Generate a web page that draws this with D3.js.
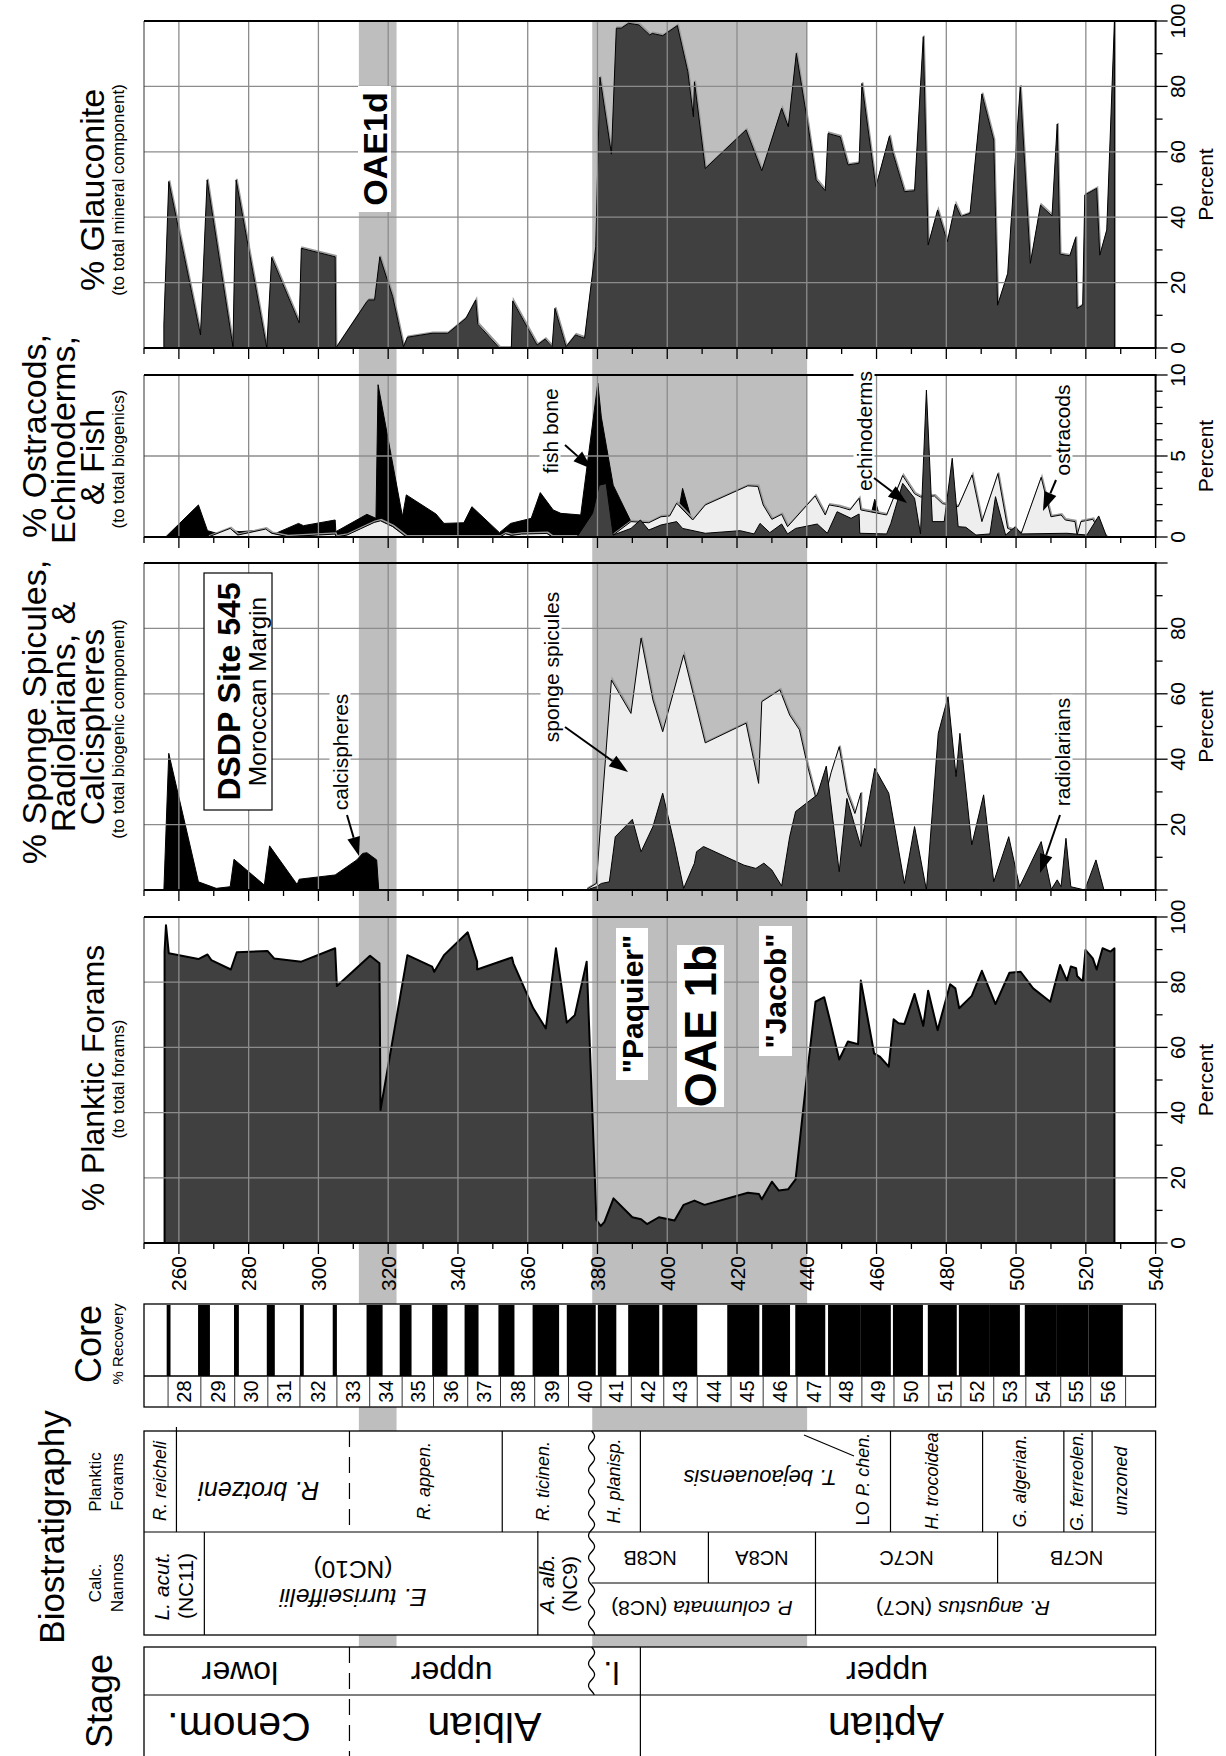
<!DOCTYPE html>
<html>
<head>
<meta charset="utf-8">
<script src="https://cdn.jsdelivr.net/npm/d3@7"></script>
<style>
body { margin: 0; background: #fff; }
svg { display: block; font-family: "Liberation Sans", Arial, Helvetica, sans-serif; }
</style>
</head>
<body>
<svg id="chart"></svg>
<script>
// Full size of the svg element.
const WIDTH = 1226
const HEIGHT = 1756

// ---------------- data (depth in mbsf, value in percent) ----------------

// Grey shaded events: OAE1d and OAE1b.
const bandTop = [311.6, 378.5]
const bandBase = [322.4, 440.1]

const glauconite = [
  [255.7, 0], [255.7, 7.3], [257.1, 50.9], [266.2, 4.0], [268.1, 51.4], [275.5, 0.4], [276.4, 51.4],
  [285.2, 0], [286.6, 27.7], [294.5, 7.7], [295.1, 30.5], [304.8, 27.9], [305.0, 0], [313.9, 14.2],
  [314.4, 14.7], [316.1, 14.7], [317.6, 27.9], [321.3, 15.7], [324.4, 0.4], [325.5, 3.3], [332.6, 4.5],
  [337.1, 4.5], [342.3, 9.1], [345.1, 14.7], [345.7, 7.3], [351.9, 0], [355.3, 0], [355.7, 14.4],
  [362.7, 0.9], [365.0, 2.7], [367.0, 0.4], [367.8, 12.1], [371.0, 0.4], [373.7, 4.0], [376.3, 3.0],
  [379.5, 31], [380.7, 82.8], [384.0, 59.3], [385.4, 97.8], [386.8, 97.8], [388.9, 99.3], [391.9, 98.8],
  [395.0, 95.7], [395.7, 96.2], [398.7, 95.5], [402.9, 98.6], [405.9, 84.5], [407.5, 70.7], [407.8, 81.4],
  [410.9, 54.9], [422.6, 66.7], [427.1, 54.2], [432.8, 73.3], [434.7, 67.7], [437.0, 90.1], [440.2, 69.2],
  [442.7, 51.4], [445.3, 48.1], [446.1, 65.6], [449.6, 64.6], [451.8, 56.0], [455.0, 56.5], [455.8, 80.9],
  [459.8, 49.3], [463.7, 64.8], [464.6, 60.0], [468.0, 47.8], [470.9, 48.1], [473.4, 95.2], [474.8, 31.5],
  [477.5, 42.2], [480.3, 32.5], [482.6, 44.0], [484.2, 40.2], [486.8, 41.2], [490.2, 77.7], [493.6, 63.6],
  [494.7, 13.1], [497.6, 22.8], [501.2, 80.1], [504.1, 25.9], [507.0, 43.7], [510.3, 40.4], [511.8, 68.5],
  [512.6, 28.7], [515.4, 28.2], [517.1, 33.8], [517.5, 12.1], [519.1, 13.1], [519.7, 46.8], [523.1, 48.8],
  [524.0, 28.4], [526.0, 36.1], [528.2, 99.8], [528.2, 0]
]

const fishBone = [
  [256.2, 0], [265.6, 1.98], [268.2, 0.39], [271.3, 0.2], [275.6, 0.37], [277.5, 0.33], [284.3, 0.43],
  [287.7, 0.22], [294.3, 0.84], [295.7, 0.7], [304.8, 1.05], [305.0, 0.33], [313.9, 1.4], [316.5, 1.15],
  [317.1, 9.4], [324.1, 1.26], [325.2, 2.6], [333.7, 1.42], [336.0, 0.84], [341.7, 0.88], [344.0, 1.87],
  [351.9, 0.27], [355.1, 0.84], [361.0, 1.15], [363.6, 2.74], [367.3, 1.67], [369.5, 1.46], [375.2, 1.36],
  [380.1, 9.49], [381.1, 7.4], [384.5, 3.2], [389.6, 0.95], [395.0, 0.4], [402.7, 0.9], [404.4, 3.0],
  [407.0, 1.05], [410.0, 0.3], [455.0, 0.3], [458.0, 1.0], [459.5, 2.33], [461.0, 1.2], [465.0, 0.3],
  [510.0, 0.3], [512.5, 1.3], [514.0, 0.6], [520.0, 0.2], [524.0, 0.2], [526.0, 0]
]

const ostracods = [
  [268.4, 0], [274.7, 0.53], [276.9, 0.12], [284.9, 0.49], [286.6, 0.23], [291.1, 0.02], [304.8, 0.18],
  [305.1, 0], [308.2, 0.12], [312.0, 0.5], [316.0, 0.9], [317.8, 1.0], [321.3, 0.64], [325.2, 0],
  [352.0, 0], [353.6, 0.2], [355.3, 0.1], [358.2, 0.18], [365.5, 0.22], [367.0, 0], [383.0, 0],
  [384.5, 0.12], [389.6, 0.95], [394.7, 0.88], [398.2, 1.25], [400.7, 1.3], [402.7, 2.08], [407.3, 1.05],
  [410.9, 1.98], [423.1, 3.16], [426.0, 3.12], [427.5, 1.98], [430.0, 1.09], [432.8, 1.4], [434.5, 0.64],
  [442.4, 2.53], [445.3, 1.36], [446.4, 1.98], [449.3, 1.87], [452.4, 1.67], [455.0, 2.39], [455.5, 1.67],
  [462.9, 1.36], [467.5, 3.79], [470.9, 2.67], [472.6, 2.47], [476.6, 2.53], [478.9, 2.06], [483.4, 1.87],
  [487.4, 3.83], [490.2, 0.95], [494.8, 3.91], [497.6, 0.53], [501.5, 0.23], [507.2, 3.68], [510.0, 1.25],
  [512.9, 1.36], [514.1, 1.05], [516.9, 0.95], [517.5, 0.12], [518.6, 0.95], [522.0, 1.09], [524.3, 0.23],
  [526.0, 0]
]

const echinoderms = [
  [374.1, 0], [378.6, 1.46], [380.5, 3.2], [382.5, 3.3], [384.5, 0.12], [389.6, 0.53], [392.3, 1.05],
  [394.7, 0.43], [398.2, 0.74], [402.7, 0.95], [404.4, 0.53], [410.9, 0.23], [420.9, 0.39], [424.9, 0.19],
  [426.6, 0.84], [429.4, 0.27], [432.8, 0.8], [434.5, 0.19], [436.8, 0.53], [443.0, 0.8], [445.9, 0.23],
  [448.7, 1.56], [452.7, 1.15], [455.0, 1.42], [455.2, 0.23], [462.9, 0.19], [464.1, 0.84], [467.5, 3.31],
  [470.9, 2.39], [472.6, 0.19], [474.3, 9.07], [476.0, 0.95], [479.4, 0.95], [481.7, 4.86], [483.4, 0.64],
  [485.6, 0.6], [488.5, 0.12], [492.5, 0.19], [494.1, 2.49], [497.0, 0.12], [499.8, 0.64], [501.5, 0.19],
  [514.6, 0.23], [520.3, 0.12], [523.7, 1.3], [526.0, 0]
]

const calcispheres = [
  [255.7, 0], [257.1, 41.8], [265.6, 2.5], [270.7, 0.5], [274.7, 1.0], [275.8, 9.4], [284.5, 1.5],
  [286.0, 13.5], [293.9, 1.7], [294.5, 3.3], [304.8, 4.6], [311.0, 9.2], [312.7, 11.2], [313.9, 11.4],
  [316.7, 9.2], [317.3, 0]
]

const spongeSpicules = [
  [376.9, 0.2], [379.7, 2.0], [380.9, 20.4], [384.0, 64.2], [389.6, 54.0], [392.5, 77.0], [395.9, 58.1],
  [398.7, 48.4], [404.7, 71.9], [410.9, 45.0], [422.6, 51.0], [426.2, 32.6], [427.1, 57.6], [432.3, 61.2],
  [435.1, 53.5], [437.9, 49.0], [440.2, 38.0], [442.5, 28.5], [445.6, 30.0], [447.0, 36.0], [449.3, 43.8],
  [451.5, 30.0], [453.8, 23.4], [455.5, 29.6], [455.6, 5.0], [460.0, 0]
]

const radiolarians = [
  [376.9, 0], [379.7, 1.0], [381.1, 2.0], [383.4, 2.5], [385.1, 16.3], [390.0, 21.6], [392.5, 11.7],
  [395.9, 19.4], [398.7, 29.6], [402.1, 13.8], [404.7, 0.5], [407.8, 8.2], [408.4, 11.7], [410.4, 13.3],
  [422.0, 7.6], [425.4, 6.6], [427.7, 8.2], [430.0, 6.1], [432.8, 1.2], [435.1, 16.3], [436.8, 24.0],
  [443.0, 29.1], [445.6, 37.9], [449.3, 5.6], [451.5, 28.0], [455.5, 13.3], [459.5, 37.2], [463.5, 29.6],
  [468.0, 2.0], [470.9, 19.4], [474.3, 0], [477.7, 47.9], [480.5, 59.1], [482.8, 34.7], [483.9, 47.9],
  [487.3, 13.8], [490.7, 29.1], [493.6, 2.5], [497.9, 16.3], [501.0, 1.0], [507.2, 14.8], [510.1, 0.2],
  [511.8, 3.1], [512.9, 1.0], [514.3, 15.8], [515.7, 1.0], [519.7, 0], [522.9, 9.2], [525.2, 0]
]

const plankticForams = [
  [255.9, 0], [255.9, 89.4], [256.3, 97.5], [257.1, 88.9], [265.6, 87.1], [268.2, 88.5], [269.3, 86.8],
  [274.9, 83.9], [276.6, 89.2], [285.4, 89.6], [287.3, 87.3], [295.1, 86.3], [304.8, 90.4], [305.3, 78.8],
  [314.8, 88.1], [317.5, 85.8], [317.8, 40.8], [325.5, 88.3], [332.6, 84.8], [333.2, 83.2], [336.0, 88.3],
  [342.8, 95.3], [345.5, 86.3], [345.5, 83.9], [355.5, 87.6], [355.9, 85.8], [361.6, 72.0], [365.2, 65.8],
  [368.1, 90.4], [371.2, 67.6], [373.5, 69.9], [376.9, 86.3], [379.7, 7.1], [380.9, 5.2], [382.0, 6.5],
  [384.6, 13.7], [390.0, 7.9], [392.5, 7.3], [394.2, 5.8], [397.6, 7.9], [402.1, 6.9], [404.7, 11.7],
  [407.8, 13.0], [410.7, 11.7], [423.1, 15.4], [426.3, 15.0], [427.1, 13.4], [430.0, 18.8], [432.0, 16.1],
  [434.7, 16.5], [436.8, 19.5], [440.0, 51.0], [442.5, 74.0], [445.0, 75.4], [446.4, 69.4], [449.3, 56.3],
  [451.8, 61.8], [454.7, 61.0], [455.5, 80.5], [459.3, 58.2], [460.9, 57.2], [463.5, 54.1], [464.9, 68.6],
  [466.3, 67.4], [468.0, 67.2], [470.9, 76.4], [473.4, 66.6], [474.8, 77.4], [477.5, 65.3], [481.1, 79.4],
  [482.6, 78.1], [483.7, 72.0], [487.3, 75.8], [490.2, 83.5], [494.1, 73.3], [498.1, 82.9], [501.3, 83.2],
  [504.9, 78.1], [509.8, 74.0], [512.6, 85.3], [514.6, 80.5], [515.7, 84.8], [517.2, 84.3], [517.5, 81.9],
  [519.1, 80.2], [519.9, 89.9], [522.0, 87.3], [523.1, 83.9], [524.8, 90.4], [527.1, 89.4], [528.2, 90.4],
  [528.2, 0]
]

// Cores: number, cored interval and recovered interval.
const coreNumbers = [28, 29, 30, 31, 32, 33, 34, 35, 36, 37, 38, 39, 40, 41, 42, 43, 44, 45, 46, 47, 48, 49, 50, 51, 52, 53, 54, 55, 56]
const coreTops = [256.9, 266.3, 276.0, 285.5, 294.7, 305.3, 314.7, 324.0, 333.0, 342.8, 352.2, 362.0, 371.7, 381.0,
  389.7, 399.0, 408.6, 418.3, 427.5, 437.2, 446.7, 455.8, 465.0, 475.0, 484.2, 493.6, 502.8, 512.8, 521.4, 531.4]
const recTops = [256.5, 265.5, 275.8, 285.2, 294.7, 304.1, 313.8, 323.3, 332.6, 341.9, 351.6, 361.4, 371.2, 380.1,
  388.8, 398.6, null, 417.2, 427.2, 436.7, 446.1, 455.5, 464.7, 474.7, 483.6, 492.5, 502.5, 511.7, 520.8]
const recBases = [257.6, 268.9, 277.2, 287.5, 295.8, 305.3, 318.4, 326.7, 337.0, 345.9, 356.2, 369.0, 379.5, 385.4,
  397.7, 408.6, null, 426.4, 435.2, 445.3, 455.5, 464.1, 473.3, 483.0, 492.5, 501.1, 511.7, 520.8, 530.6]

// Planktic foram zones.
const pfBounds = [250, 259.3, 308.9, 352.7, 378.3, 392.3, 464.0, 490.4, 513.7, 521.8, 540]
const pfNames = ["R. reicheli", "R. brotzeni", "R. appen.", "R. ticinen.", "H. planisp.", "T. bejaouaensis",
  "H. trocoidea", "G. algerian.", "G. ferreolen.", "unzoned"]
const pfLabelDepth = [254.5, 282.9, 330.3, 364.4, 384.6, 426.6, 476.0, 501.0, 517.4, 530.0]
const pfUpsideDown = [false, true, false, false, false, true, false, false, false, false]

// Calcareous nannofossil zones.
const nannoBounds = [250, 267.3, 362.9, 378.3]
const nannoUpperBounds = [378.3, 411.8, 442.5, 494.7, 540]
const nannoUpperNames = ["NC8B", "NC8A", "NC7C", "NC7B"]
const nannoLowerBounds = [378.3, 442.5, 540]

// Stages.
const stageSubBounds = [250, 308.9, 378.3, 392.3, 540]
const stageSubNames = ["lower", "upper", "l.", "upper"]
const stageSubLabelDepth = [277.5, 338.2, 384.0, 463.0]
const stageBounds = [250, 308.9, 392.3, 540]
const stageNames = ["Cenom.", "Albian", "Aptian"]
const stageLabelDepth = [277.2, 347.6, 462.7]

// Axis tick labels.
const depthTickLabels = [260, 280, 300, 320, 340, 360, 380, 400, 420, 440, 460, 480, 500, 520, 540]
const glaucTickLabels = [0, 20, 40, 60, 80, 100]
const ostraTickLabels = [0, 5, 10]
const spongeTickLabels = [20, 40, 60, 80]
const foramTickLabels = [0, 20, 40, 60, 80, 100]

// ---------------- layout ----------------
const FONT_TITLE = 34
const DARK = "#404040"
const LIGHT = "#eeeeee"
const BAND = "#bebebe"
const GRID = "#8c8c8c"

const x = d3.scaleLinear().domain([250, 540]).range([144, 1155.6])
const X0 = x(250), X1 = x(540)

const svg = d3.select("#chart").attr("width", WIDTH).attr("height", HEIGHT)
svg.append("rect").attr("width", WIDTH).attr("height", HEIGHT).attr("fill", "#fff")

// Grey event bands run from the top panel down to the stage column.
bandTop.forEach((t, i) => {
  svg.append("rect")
    .attr("x", x(t)).attr("width", x(bandBase[i]) - x(t))
    .attr("y", 21).attr("height", 1647 - 21)
    .attr("fill", BAND)
})

const panels = [
  { top: 21, bottom: 348, max: 100, major: 20, minor: 10, grid: [20, 40, 60, 80], labels: glaucTickLabels },
  { top: 375, bottom: 537, max: 10, major: 5, minor: 1, grid: [5], labels: ostraTickLabels },
  { top: 563, bottom: 890, max: 100, major: 20, minor: 10, grid: [20, 40, 60, 80], labels: spongeTickLabels },
  { top: 917, bottom: 1243, max: 100, major: 20, minor: 10, grid: [20, 40, 60, 80], labels: foramTickLabels },
]
panels.forEach(p => { p.y = d3.scaleLinear().domain([0, p.max]).range([p.bottom, p.top]) })

function drawArea(p, data, fill, opt = {}) {
  const area = d3.area().x(d => x(d[0])).y0(p.y(0)).y1(d => p.y(d[1]))
  const line = d3.line().x(d => x(d[0])).y(d => p.y(d[1]))
  if (opt.shadow) {
    svg.append("path").attr("d", line(data)).attr("fill", "none")
      .attr("stroke", "#9a9a9a").attr("stroke-width", 1.6).attr("transform", "translate(0.8,-1.1)")
  }
  svg.append("path").attr("d", area(data)).attr("fill", fill)
  svg.append("path").attr("d", line(data)).attr("fill", "none")
    .attr("stroke", "#000").attr("stroke-width", opt.sw || 1).attr("stroke-linejoin", "round")
}

drawArea(panels[0], glauconite, DARK, { shadow: true })
drawArea(panels[1], fishBone, "#000")
drawArea(panels[1], ostracods, LIGHT, { shadow: true })
drawArea(panels[1], echinoderms, DARK)
drawArea(panels[2], calcispheres, "#000")
drawArea(panels[2], spongeSpicules, LIGHT, { shadow: true })
drawArea(panels[2], radiolarians, DARK)
drawArea(panels[3], plankticForams, DARK, { sw: 2 })

const depthMajor = [260, 280, 300, 320, 340, 360, 380, 400, 420, 440, 460, 480, 500, 520]

panels.forEach(p => {
  const g = svg.append("g")
  // grid
  depthMajor.forEach(d => {
    g.append("line").attr("x1", x(d)).attr("x2", x(d)).attr("y1", p.top).attr("y2", p.bottom)
      .attr("stroke", GRID).attr("stroke-width", 1.3)
  })
  p.grid.forEach(v => {
    g.append("line").attr("x1", X0).attr("x2", X1).attr("y1", p.y(v)).attr("y2", p.y(v))
      .attr("stroke", GRID).attr("stroke-width", 1.3)
  })
  // frame
  g.append("line").attr("x1", X0).attr("x2", X0).attr("y1", p.top).attr("y2", p.bottom)
    .attr("stroke", "#333").attr("stroke-width", 1)
  g.append("line").attr("x1", X0).attr("x2", X1 + 1).attr("y1", p.top).attr("y2", p.top)
    .attr("stroke", "#000").attr("stroke-width", 2)
  g.append("line").attr("x1", X0).attr("x2", X1 + 1).attr("y1", p.bottom).attr("y2", p.bottom)
    .attr("stroke", "#000").attr("stroke-width", 2)
  g.append("line").attr("x1", X1).attr("x2", X1).attr("y1", p.top).attr("y2", p.bottom)
    .attr("stroke", "#000").attr("stroke-width", 2)
  // depth ticks below the panel
  d3.range(250, 541, 10).forEach(d => {
    const len = d % 20 === 0 ? 11 : 6
    g.append("line").attr("x1", x(d)).attr("x2", x(d)).attr("y1", p.bottom).attr("y2", p.bottom + len)
      .attr("stroke", "#000").attr("stroke-width", 1.3)
  })
  // percent ticks on the right
  d3.range(0, p.max + 0.001, p.minor).forEach(v => {
    const major = Math.abs(v / p.major - Math.round(v / p.major)) < 1e-6
    g.append("line").attr("x1", X1).attr("x2", X1 + (major ? 12 : 7))
      .attr("y1", p.y(v)).attr("y2", p.y(v)).attr("stroke", "#000").attr("stroke-width", 1.3)
  })
  p.labels.forEach(v => {
    g.append("text").attr("transform", `translate(${X1 + 29},${p.y(v)}) rotate(-90)`)
      .attr("text-anchor", "middle").attr("font-size", 21).text(v)
  })
  g.append("text").attr("transform", `translate(1213,${(p.top + p.bottom) / 2}) rotate(-90)`)
    .attr("text-anchor", "middle").attr("font-size", 21).text("Percent")
})

// depth axis labels
depthTickLabels.forEach(d => {
  svg.append("text").attr("transform", `translate(${x(d)},1256) rotate(-90)`)
    .attr("text-anchor", "end").attr("dominant-baseline", "central").attr("font-size", 21).text(d)
})

// ---------------- annotations ----------------
function boxLabel(cx, cy, str, size, o = {}) {
  const g = svg.append("g").attr("transform", `translate(${cx},${cy}) rotate(${o.angle ?? -90})`)
  const rect = g.append("rect").attr("fill", "#fff")
  const t = g.append("text").attr("text-anchor", "middle").attr("dominant-baseline", "central")
    .attr("font-size", size).attr("font-weight", o.weight || null).text(str)
  if (o.w) {
    rect.attr("x", -o.w / 2).attr("y", -o.h / 2).attr("width", o.w).attr("height", o.h)
  } else {
    const b = t.node().getBBox()
    rect.attr("x", b.x - 3).attr("y", b.y + 1).attr("width", b.width + 6).attr("height", b.height - 2)
  }
  return g
}

function arrow(x1, y1, x2, y2) {
  const a = Math.atan2(y2 - y1, x2 - x1)
  const L = 19, w = 6.5
  const bx = x2 - L * Math.cos(a), by = y2 - L * Math.sin(a)
  svg.append("line").attr("x1", x1).attr("y1", y1).attr("x2", bx).attr("y2", by)
    .attr("stroke", "#000").attr("stroke-width", 2)
  const pts = [[x2, y2], [bx + w * Math.sin(a), by - w * Math.cos(a)], [bx - w * Math.sin(a), by + w * Math.cos(a)]]
  svg.append("path").attr("d", "M" + pts.join("L") + "Z").attr("fill", "#000")
}

boxLabel(374.5, 149, "OAE1d", 34, { weight: "bold", w: 126, h: 33 })
boxLabel(632, 1004, "\"Paquier\"", 30, { weight: "bold", w: 152, h: 32 })
boxLabel(700.5, 1026, "OAE 1b", 45, { weight: "bold", w: 162, h: 47 })
boxLabel(775.5, 991, "\"Jacob\"", 30, { weight: "bold", w: 130, h: 33 })

// site box
{
  const g = svg.append("g").attr("transform", "translate(238,691.5) rotate(-90)")
  g.append("rect").attr("x", -118.5).attr("y", -34).attr("width", 237).attr("height", 68)
    .attr("fill", "#fff").attr("stroke", "#000").attr("stroke-width", 1.2)
  g.append("text").attr("text-anchor", "middle").attr("y", 2).attr("font-size", 32)
    .attr("font-weight", "bold").text("DSDP Site 545")
  g.append("text").attr("text-anchor", "middle").attr("y", 28).attr("font-size", 24.5).text("Moroccan Margin")
}

boxLabel(340, 752, "calcispheres", 21)
arrow(347, 815, 359, 856)
boxLabel(551, 667, "sponge spicules", 21)
arrow(565, 727, 628, 772)
boxLabel(1062, 752, "radiolarians", 21)
arrow(1060, 815, 1040, 873)
boxLabel(550, 431, "fish bone", 21)
arrow(565, 445, 592, 469)
boxLabel(864, 431, "echinoderms", 21)
arrow(874, 478, 907, 503)
boxLabel(1062, 430, "ostracods", 21)
arrow(1056, 480, 1043, 511)

// ---------------- panel titles ----------------
function vtext(xb, cy, str, size, o = {}) {
  return svg.append("text").attr("transform", `translate(${xb},${cy}) rotate(-90)`)
    .attr("text-anchor", o.anchor || "middle").attr("dominant-baseline", o.baseline || null)
    .attr("font-size", size).attr("font-style", o.style || null).text(str)
}

vtext(104, 190, "% Glauconite", FONT_TITLE)
vtext(123.5, 190, "(to total mineral component)", 17)

vtext(46, 436, "% Ostracods,", FONT_TITLE)
vtext(75, 440, "Echinoderms,", FONT_TITLE)
vtext(104, 457, "& Fish", FONT_TITLE)
vtext(123.5, 459, "(to total biogenics)", 17)

vtext(46, 712, "% Sponge Spicules,", FONT_TITLE)
vtext(75, 717, "Radiolarians, &", FONT_TITLE)
vtext(104, 727, "Calcispheres", FONT_TITLE)
vtext(123.5, 729, "(to total biogenic component)", 17)

vtext(104, 1078, "% Planktic Forams", 32)
vtext(123.5, 1079, "(to total forams)", 17)

// ---------------- core recovery ----------------
const CORE_TOP = 1304, CORE_MID = 1376, CORE_BOT = 1407
svg.append("rect").attr("x", X0).attr("y", CORE_TOP).attr("width", X1 - X0).attr("height", CORE_BOT - CORE_TOP)
  .attr("fill", "#fff").attr("stroke", "#000").attr("stroke-width", 1.3)
recTops.forEach((t, i) => {
  if (t === null) return
  svg.append("rect").attr("x", x(t)).attr("width", x(recBases[i]) - x(t))
    .attr("y", CORE_TOP + 1).attr("height", CORE_MID - CORE_TOP - 1).attr("fill", "#000")
})
svg.append("line").attr("x1", X0).attr("x2", X1).attr("y1", CORE_MID).attr("y2", CORE_MID)
  .attr("stroke", "#000").attr("stroke-width", 1.3)
coreTops.forEach(t => {
  svg.append("line").attr("x1", x(t)).attr("x2", x(t)).attr("y1", CORE_MID).attr("y2", CORE_BOT)
    .attr("stroke", "#333").attr("stroke-width", 1)
})
coreNumbers.forEach((n, i) => {
  vtext(x((coreTops[i] + coreTops[i + 1]) / 2), (CORE_MID + CORE_BOT) / 2, n, 20, { baseline: "central" })
})
vtext(101, 1344, "Core", 36)
vtext(123, 1344, "% Recovery", 15)

// ---------------- biostratigraphy ----------------
const BS_TOP = 1431, PF_BOT = 1532, NN_SPLIT = 1583, NN_BOT = 1635
const ST_TOP = 1647, ST_MID = 1695, ST_BOT = 1756

function wavy(d, y1, y2) {
  const pts = d3.range(y1, y2 + 0.5, 1).map(yy => [x(d) + 3 * Math.sin((yy - y1) / 22 * 2 * Math.PI), yy])
  svg.append("path").attr("d", d3.line()(pts)).attr("fill", "none").attr("stroke", "#000").attr("stroke-width", 1.3)
}
function vline(d, y1, y2, dashed) {
  svg.append("line").attr("x1", x(d)).attr("x2", x(d)).attr("y1", y1).attr("y2", y2)
    .attr("stroke", "#000").attr("stroke-width", 1.2).attr("stroke-dasharray", dashed ? "16,10" : null)
}
function hline(d1, d2, yy) {
  svg.append("line").attr("x1", x(d1)).attr("x2", x(d2)).attr("y1", yy).attr("y2", yy)
    .attr("stroke", "#000").attr("stroke-width", 1.2)
}
function utext(cx, cy, size, parts) {
  const t = svg.append("text").attr("transform", `translate(${cx},${cy}) rotate(180)`)
    .attr("text-anchor", "middle").attr("dominant-baseline", "central").attr("font-size", size)
  parts.forEach(p => t.append("tspan").attr("font-style", p[1] ? "italic" : null).text(p[0]))
  return t
}
function rtext(cx, cy, size, parts) {
  const t = svg.append("text").attr("transform", `translate(${cx},${cy}) rotate(-90)`)
    .attr("text-anchor", "middle").attr("dominant-baseline", "central").attr("font-size", size)
  parts.forEach(p => t.append("tspan").attr("font-style", p[1] ? "italic" : null).text(p[0]))
  return t
}

svg.append("rect").attr("x", X0).attr("y", BS_TOP).attr("width", X1 - X0).attr("height", NN_BOT - BS_TOP)
  .attr("fill", "#fff").attr("stroke", "#000").attr("stroke-width", 1.3)
hline(250, 540, PF_BOT)

// planktic foram zone boundaries
pfBounds.slice(1, -1).forEach(d => {
  if (d === 378.3) wavy(d, BS_TOP, NN_BOT)
  else vline(d, d === 259.3 ? BS_TOP - 4 : BS_TOP, PF_BOT, d === 308.9)
})
pfNames.forEach((n, i) => {
  const cx = x(pfLabelDepth[i])
  if (pfUpsideDown[i]) utext(cx, n === "R. brotzeni" ? 1491 : 1478, n === "R. brotzeni" ? 25 : 22, [[n, true]])
  else rtext(cx, 1481, 18, [[n, true]])
})
rtext(x(456.1), 1479, 18, [["LO ", false], ["P. chen.", true]])
svg.append("line").attr("x1", 804).attr("y1", 1435).attr("x2", 854).attr("y2", 1456)
  .attr("stroke", "#000").attr("stroke-width", 1.1)

// nannofossil zones
vline(nannoBounds[1], PF_BOT, NN_BOT)
vline(nannoBounds[2], PF_BOT - 1, NN_BOT)
hline(378.3, 540, NN_SPLIT)
nannoUpperBounds.slice(1, -1).forEach(d => vline(d, PF_BOT, NN_SPLIT))
nannoLowerBounds.slice(1, -1).forEach(d => vline(d, NN_SPLIT, NN_BOT))
rtext(161, 1586, 21, [["L. acut.", true]])
rtext(185, 1586, 21, [["(NC11)", false]])
rtext(546, 1584, 21, [["A. alb.", true]])
rtext(569, 1584, 21, [["(NC9)", false]])
utext(353, 1570, 24.5, [["(NC10)", false]])
utext(353, 1598, 24.5, [["E. turriseiffelii", true]])
nannoUpperNames.forEach((n, i) => {
  utext(x((nannoUpperBounds[i] + nannoUpperBounds[i + 1]) / 2), 1558, 20, [[n, false]])
})
utext(702, 1609, 21, [["P. columnata", true], [" (NC8)", false]])
utext(963, 1609, 21, [["R. angustus", true], [" (NC7)", false]])

// ---------------- stage ----------------
svg.append("rect").attr("x", X0).attr("y", ST_TOP).attr("width", X1 - X0).attr("height", ST_BOT - ST_TOP + 5)
  .attr("fill", "#fff").attr("stroke", "#000").attr("stroke-width", 1.3)
hline(250, 540, ST_MID)
vline(308.9, ST_TOP, ST_BOT, true)
wavy(378.3, ST_TOP, ST_MID)
vline(392.3, ST_TOP, ST_BOT)
stageSubNames.forEach((n, i) => utext(x(stageSubLabelDepth[i]), 1673, 32, [[n, false]]))
stageNames.forEach((n, i) => utext(x(stageLabelDepth[i]), 1727, 41, [[n, false]]))

// left-hand column titles
vtext(64, 1527, "Biostratigraphy", 35)
vtext(101, 1482, "Planktic", 17)
vtext(123, 1482, "Forams", 17)
vtext(101, 1583, "Calc.", 17)
vtext(123, 1583, "Nannos", 17)
vtext(112, 1701, "Stage", 36)
</script>
</body>
</html>
